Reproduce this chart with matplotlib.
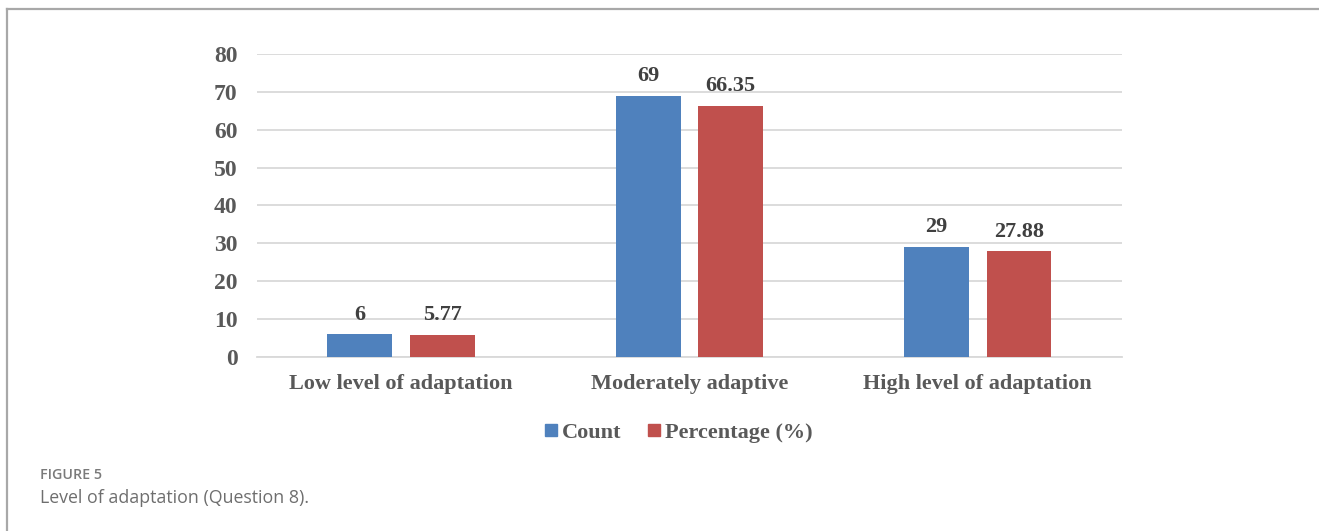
import matplotlib.pyplot as plt
import numpy as np
from matplotlib.lines import Line2D

plt.rcParams.update({
    "font.family": "serif",
    "font.serif": ["Liberation Serif", "DejaVu Serif"],
    "font.weight": "bold",
})

categories = ["Low level of adaptation", "Moderately adaptive", "High level of adaptation"]
count = [6, 69, 29]
percentage = [5.77, 66.35, 27.88]
count_labels = ["6", "69", "29"]
pct_labels = ["5.77", "66.35", "27.88"]

BLUE, RED, GRID, TXT = "#4f81bd", "#c0504d", "#d9d9d9", "#595959"

fig = plt.figure(figsize=(13.19, 5.31), dpi=100)
ax = fig.add_axes([0.1948, 0.3277, 0.6558, 0.5706])

x = np.arange(len(categories))
w, off = 0.225, 0.143
b1 = ax.bar(x - off, count, w, color=BLUE, label="Count", zorder=3)
b2 = ax.bar(x + off, percentage, w, color=RED, label="Percentage (%)", zorder=3)

for bars, labs in ((b1, count_labels), (b2, pct_labels)):
    for r, lab in zip(bars, labs):
        ax.annotate(lab, (r.get_x() + r.get_width() / 2, r.get_height()),
                    xytext=(0, 7), textcoords="offset points", ha="center", va="bottom",
                    fontsize=16, fontweight="bold", color="#404040")

ax.set_xlim(-0.5, 2.5)
ax.set_ylim(0, 80)
ax.set_yticks(range(0, 81, 10))
ax.set_xticks(x)
ax.set_xticklabels(categories)
ax.tick_params(axis="y", length=0, pad=14, labelsize=17, labelcolor=TXT)
ax.tick_params(axis="x", length=0, pad=12, labelsize=16, labelcolor=TXT)
ax.yaxis.grid(True, color=GRID, lw=1.3)
ax.set_axisbelow(True)
for s in ("top", "right", "left"):
    ax.spines[s].set_visible(False)
ax.spines["bottom"].set_color(GRID)
ax.spines["bottom"].set_linewidth(1.3)

handles = [Line2D([], [], ls="", marker="s", ms=8.6, color=BLUE),
           Line2D([], [], ls="", marker="s", ms=8.6, color=RED)]
fig.legend(handles, ["Count", "Percentage (%)"], loc="center", bbox_to_anchor=(0.5125, 0.186),
           ncol=2, frameon=False, fontsize=16, handletextpad=0.0, columnspacing=0.95,
           labelcolor=TXT, handlelength=1.0)

# outer frame: top and left rules only
fig.add_artist(Line2D([7 / 1319, 1], [1 - 9 / 531, 1 - 9 / 531], color="#a8a8a8", lw=1.6,
                      transform=fig.transFigure))
fig.add_artist(Line2D([7 / 1319, 7 / 1319], [0, 1 - 9 / 531], color="#a8a8a8", lw=1.6,
                      transform=fig.transFigure))

fig.text(40 / 1319, 1 - 475 / 531, "FIGURE 5", family="Open Sans", fontweight="semibold",
         fontsize=10.3, color="#7a7a7a", va="center", ha="left")
fig.text(40 / 1319, 1 - 498 / 531, "Level of adaptation (Question 8).", family="Open Sans",
         fontweight="normal", fontsize=12.8, color="#6e6e6e", va="center", ha="left")

fig.savefig("out.png", dpi=100)
